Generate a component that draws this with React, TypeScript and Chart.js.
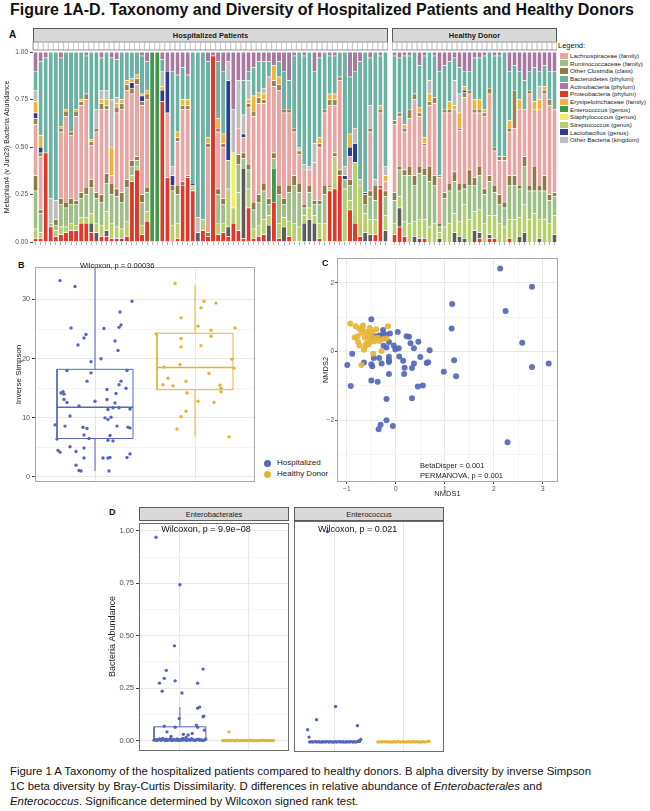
import React, { useEffect, useRef } from "react";
import { Chart, registerables } from "chart.js";

Chart.register(...registerables);

const FONT = "'Liberation Sans', Arial, Helvetica, sans-serif";
Chart.defaults.font.family = FONT;

// ---------- Panel A: relative abundance per sample (percent) ----------
const taxaNames = [
  "Lachnospiraceae (family)",
  "Ruminococcaceae (family)",
  "Other Clostridia (class)",
  "Bacteroidetes (phylum)",
  "Actinobacteria (phylum)",
  "Proteobacteria (phylum)",
  "Erysipelotrichaceae (family)",
  "Enterococcus (genus)",
  "Staphylococcus (genus)",
  "Streptococcus (genus)",
  "Lactobacillus (genus)",
  "Other Bacteria (kingdom)",
];
const taxaColors = [
  "#E9A5A2", "#9EBF88", "#8C7B45", "#6BB2A2", "#A8789F", "#E2382B",
  "#EFB43E", "#3E9A48", "#EEEE6A", "#B7CF6C", "#2D3C8F", "#BDBDBD",
];

// stacking order, bottom to top
const stackNames = [
  "Proteobacteria", "Other Bacteria (unassigned)", "Enterococcus", "Streptococcus",
  "Staphylococcus", "Ruminococcaceae", "Other Clostridia", "Lachnospiraceae",
  "Other Clostridia (minor)", "Lactobacillus", "Erysipelotrichaceae",
  "Other Bacteria", "Bacteroidetes", "Actinobacteria",
];
const stackColors = [
  "#E2382B", "#5C5C5C", "#3E9A48", "#B7CF6C", "#EEEE6A", "#9EBF88", "#8C7B45",
  "#E9A5A2", "#9A8550", "#2D3C8F", "#EFB43E", "#BDBDBD", "#6BB2A2", "#A8789F",
];

const hospProt = [2,2,47,8,3,4,5,6,6,10, 10,5,0,3,3,2,2,0,3,32, 38,4,11,0,0,74,34,1,2,30, 34,27,0,6,3,98,4,5,3,10, 6,2,18,2,3,4,0,21,2,0, 3,0,0,0,0,0,2,0,27,28, 35,0,17,10,3,0,0,4,28,0];
const hospDark = [0,0,0,0,0,0,0,0,0,0, 0,5,5,0,3,0,0,2,0,0, 0,0,0,0,0,0,0,0,0,0, 0,0,5,0,0,0,0,0,5,0, 0,37,0,0,0,0,9,0,0,8, 0,0,0,10,12,10,0,0,0,0, 0,0,0,0,0,5,4,0,0,6];
const hospEntc = [0,0,0,0,0,0,0,0,0,0, 0,0,0,0,0,0,0,0,0,0, 0,0,0,100,100,0,0,0,0,0, 0,0,0,0,0,0,0,0,0,0, 0,0,0,0,0,0,0,18,0,0, 0,0,0,0,0,0,0,0,0,0, 0,0,0,0,0,0,0,0,0,0];
const hospStrep = [5,3,0,0,3,4,3,4,3,3, 3,5,5,6,10,8,6,5,8,3, 2,5,5,0,0,0,0,8,8,0, 0,2,0,6,0,0,6,5,20,8, 20,0,10,5,6,8,5,0,8,5, 8,10,8,4,6,4,8,10,2,17, 0,28,5,32,27,10,8,8,0,8];
const hospStaph = [0,0,0,0,0,0,0,0,0,0, 0,0,0,0,0,0,0,0,0,0, 0,0,0,0,0,0,0,0,0,0, 0,0,0,0,0,0,0,0,0,29, 0,0,0,0,0,0,0,0,0,0, 0,0,0,0,0,0,0,0,0,0, 0,0,0,0,0,0,0,0,0,0];
const hospRumi = [20,10,0,2,3,12,10,10,11,10, 12,14,13,12,15,15,16,14,18,5, 3,12,10,0,0,0,0,18,15,0, 0,1,0,0,0,0,15,10,15,0, 15,5,10,10,12,15,6,5,15,7, 15,20,18,4,8,6,10,15,0,0, 0,5,8,0,0,5,12,10,0,10];
const hospClos = [8,2,0,0,3,3,3,3,2,3, 4,4,3,4,5,6,4,5,4,3, 2,4,3,0,0,0,0,3,5,2, 1,0,0,0,2,0,3,3,0,0, 5,3,3,4,4,4,3,3,5,3, 4,5,5,2,4,2,2,5,1,2, 3,0,3,0,0,5,3,8,2,3];
const hospLach = [27,28,0,0,0,35,45,33,44,46, 46,18,32,45,34,4,40,44,47,35, 38,47,46,0,0,0,34,0,23,38, 35,0,0,0,45,0,30,27,0,0, 14,8,30,45,48,42,64,35,50,45, 38,23,15,18,8,20,28,38,42,25, 47,0,12,0,0,0,31,0,38,5];
const hospClosHi = [3,2,0,0,0,2,3,2,3,2, 3,2,2,3,2,0,3,3,3,3, 3,2,3,0,0,0,0,0,2,2, 2,0,0,0,2,0,2,2,0,0, 0,0,2,3,3,2,0,3,3,2, 2,2,2,1,0,0,2,2,3,3, 2,0,0,0,0,0,2,0,2,0];
const hospLacto = [3,3,0,0,0,0,0,0,0,0, 0,0,0,0,0,0,0,0,0,3, 0,3,0,0,0,6,22,5,0,0, 0,1,0,0,0,0,0,0,42,0, 0,2,0,0,0,0,0,0,0,0, 0,0,0,0,0,0,0,0,0,0, 0,2,5,10,0,1,0,0,0,0];
const hospEry = [6,6,0,0,0,1,1,0,1,1, 0,1,0,2,3,15,2,2,2,2, 2,1,2,0,0,2,0,0,3,3, 3,0,0,0,3,0,5,5,0,0, 0,0,2,8,3,3,0,8,4,0, 0,0,1,0,0,0,3,0,3,3, 0,0,7,0,0,0,0,0,2,3];
const hospGray = [6,0,0,13,10,0,0,0,0,0, 0,0,10,5,5,25,3,0,0,0, 0,0,0,0,0,8,0,5,0,0, 0,0,8,0,0,0,0,0,10,23, 25,10,10,0,0,3,0,0,0,0, 0,0,1,2,2,10,0,0,0,0, 0,5,0,8,3,0,12,3,0,5];
const hospBact = [10,39,50,77,78,36,30,42,30,25, 20,46,30,17,20,22,20,25,15,14, 12,20,15,0,0,6,0,50,30,17, 13,69,87,88,40,0,30,33,0,0, 0,18,5,15,16,14,8,0,8,20, 15,38,50,57,60,38,42,30,20,20, 13,60,30,30,62,74,25,67,26,60];
const hospActino = [10,5,3,0,0,3,0,0,0,0, 2,0,0,3,0,3,4,0,0,0, 0,2,5,0,0,4,10,10,12,8, 12,0,0,0,5,2,5,10,5,30, 15,15,10,8,5,5,5,7,5,10, 15,2,0,2,0,10,3,0,2,2, 0,0,13,10,5,0,3,0,2,0];

const healthyProt = [4,8,3,0,0,0,2,0,0,0, 0,0,0,0,0,0,0,2,0,2, 2,0,0,2,0,0,0,0,0,0, 0,0,0];
const healthyDark = [0,10,0,0,3,2,0,0,0,2, 0,0,5,3,2,0,6,3,0,2, 0,0,0,0,0,3,5,0,0,2, 0,0,4];
const healthyEntc = [0,0,0,0,0,0,0,0,0,0, 0,0,0,0,0,0,0,0,0,0, 0,0,0,0,0,0,0,0,0,0, 0,0,0];
const healthyStrep = [6,6,8,10,8,10,10,8,10,3, 8,10,10,8,18,12,10,12,10,10, 12,10,8,10,12,10,15,12,15,10, 12,10,10];
const healthyStaph = [0,0,0,0,0,0,0,0,0,0, 0,0,0,0,0,0,0,0,0,0, 0,0,0,0,0,0,0,0,0,0, 0,0,0];
const healthyRumi = [12,14,24,25,19,24,23,24,20,3, 15,17,17,16,8,18,14,18,15,18, 12,10,10,18,18,15,20,15,12,15, 15,12,10];
const healthyClos = [4,2,3,5,5,4,4,8,5,2, 3,4,5,4,3,8,4,5,3,3, 4,5,3,5,5,2,5,3,13,3, 8,3,2];
const healthyLach = [36,26,20,25,40,26,12,32,38,24, 42,37,33,28,45,40,34,28,38,43, 18,18,22,23,25,40,25,48,30,40, 43,47,44];
const healthyClosHi = [2,2,2,5,3,2,1,2,3,1, 2,2,0,1,3,2,2,2,2,3, 2,2,2,2,20,0,0,2,0,0, 2,3,0];
const healthyLacto = [0,0,0,0,0,0,0,0,0,0, 0,0,0,0,1,0,0,0,0,0, 0,0,0,0,0,0,0,0,0,0, 0,0,0];
const healthyEry = [0,0,2,0,0,3,3,4,0,0, 0,4,2,8,2,0,5,5,2,0, 0,0,0,4,0,5,0,0,4,5, 2,0,0];
const healthyGray = [0,0,0,0,0,0,0,7,0,0, 0,0,13,10,0,0,0,0,0,0, 0,0,0,0,0,0,0,0,0,7, 0,0,0];
const healthyBact = [34,29,36,28,22,22,43,15,22,55, 23,21,12,14,8,10,22,22,28,19, 48,53,55,26,13,15,15,10,18,8, 11,15,20];
const healthyActino = [2,3,2,2,0,7,2,0,2,10, 7,5,3,8,10,10,3,3,2,0, 2,2,0,10,7,10,15,10,8,10, 7,10,10];

const hospSamples = hospProt.map((_, i) => `HP${i + 1}`);
const healthySamples = healthyProt.map((_, i) => `HD${i + 1}`);

const hospTaxa = [hospProt, hospDark, hospEntc, hospStrep, hospStaph, hospRumi, hospClos, hospLach, hospClosHi, hospLacto, hospEry, hospGray, hospBact, hospActino];
const healthyTaxa = [healthyProt, healthyDark, healthyEntc, healthyStrep, healthyStaph, healthyRumi, healthyClos, healthyLach, healthyClosHi, healthyLacto, healthyEry, healthyGray, healthyBact, healthyActino];

// ---------- Panel B: inverse Simpson ----------
const groupCenters = [1, 2];
const hospInvSimpX = [0.65,0.80,0.76,0.91,0.89,0.83,1.09,1.37,1.25,1.26,1.24,1.20,1.23,0.96,1.06,0.96,0.72,1.32,0.92,1.26,1.24,1.31,1.12,0.66,0.68,0.69,1.21,0.69,1.12,0.72,1.00,1.20,0.84,1.13,1.18,1.24,1.35,0.75,1.10,1.13,1.16,0.60,0.70,1.22,0.88,0.92,1.33,1.35,0.89,1.15,0.94,1.13,1.18,0.62,0.75,0.89,0.63,0.65,0.81,1.35,1.32,0.89,1.08,1.13,1.15,0.81,0.84,0.86,1.14];
const hospInvSimpY = [33.2,32.2,25.2,24.1,23.5,22.3,25.1,29.7,27.9,25.7,25.3,23.0,21.4,19.5,20.0,17.6,18.0,18.0,16.2,16.2,15.6,15.0,14.8,14.2,14.4,14.0,14.1,13.1,13.1,12.6,12.8,12.5,12.0,11.4,11.7,11.7,11.5,10.3,10.0,9.7,10.1,8.8,8.6,8.6,8.4,8.2,8.4,8.3,7.1,7.0,6.5,6.2,6.1,6.4,5.1,4.9,4.5,4.2,4.3,3.9,3.3,3.2,3.2,3.2,3.3,2.0,1.1,1.0,1.0];
const healthyInvSimpX = [1.80,1.86,2.09,2.06,2.21,2.03,2.16,2.40,2.16,1.61,1.86,1.86,2.06,2.37,1.85,1.69,2.39,1.73,1.68,1.78,1.91,2.14,2.25,2.26,2.26,1.92,2.19,2.03,1.91,1.86,1.82,2.34];
const healthyInvSimpY = [32.7,26.9,29.7,28.6,29.4,25.5,24.8,25.2,23.8,24.2,23.4,22.0,22.2,19.9,19.0,18.6,18.4,16.7,15.6,15.4,16.2,17.5,15.5,15.0,14.4,14.2,12.6,12.8,11.1,10.2,8.1,6.8];
const invSimpLow = [1.0, 6.8];
const invSimpQ1 = [6.5, 14.75];
const invSimpMedian = [11.8, 18.5];
const invSimpQ3 = [18.2, 24.3];
const invSimpHigh = [35.8, 32.5];

// ---------- Panel C: NMDS ordination ----------
const nmdsHospX = [2.13,2.78,2.24,1.15,1.14,2.58,2.78,3.12,2.28,1.19,1.23,0.98,-0.50,0.04,0.22,0.27,0.46,0.30,0.37,0.69,0.50,0.66,0.63,0.37,0.33,0.18,0.15,0.07,0.06,-0.01,-0.04,-0.14,-0.14,-0.14,-0.14,-0.19,-0.25,-0.26,-0.26,-0.21,-0.12,-0.34,-0.43,-0.46,-0.29,-0.34,-0.45,-0.50,-0.48,-0.65,-0.99,-0.89,-0.92,-0.50,-0.37,-0.14,0.17,-0.19,0.33,0.45,0.55,-0.19,-0.31,-0.35,-0.06];
const nmdsHospY = [2.42,1.89,1.18,1.39,0.67,0.26,-0.45,-0.35,-2.64,-0.25,-0.72,-0.59,0.94,0.57,0.45,0.43,0.29,0.24,0.10,0.04,-0.16,-0.31,-0.33,-0.35,-0.48,-0.47,-0.27,-0.14,0.10,0.06,0.18,0.28,-0.15,-0.25,-0.30,0.12,0.17,0.63,0.50,0.49,0.53,0.47,0.45,0.43,-0.35,-0.19,-0.19,-0.37,-0.43,-0.32,-0.39,-0.06,-1.00,-0.84,-0.88,-0.65,-0.65,-1.38,-1.36,-1.02,-0.99,-2.0,-2.13,-2.26,-2.17];
const nmdsHealthyX = [-0.93,-0.82,-0.75,-0.68,-0.70,-0.78,-0.60,-0.55,-0.63,-0.74,-0.62,-0.65,-0.56,-0.53,-0.46,-0.40,-0.43,-0.33,-0.16,-0.19,-0.29,-0.46,-0.70,-0.60,-0.48,-0.37,-0.84,-0.77,-0.67,-0.53,-0.52,-0.26];
const nmdsHealthyY = [0.82,0.74,0.67,0.67,0.55,0.45,0.57,0.50,0.41,0.18,0.16,0.05,0.21,0.36,0.41,0.65,0.30,0.31,0.74,0.38,0.02,-0.06,-0.39,0.24,0.57,0.40,0.41,0.28,0.76,0.69,0.28,0.37];

// ---------- Panel D: Enterobacterales / Enterococcus ----------
const entbHospX = [0.65,1.00,0.92,0.80,1.34,0.77,0.70,1.26,0.93,0.74,1.03,1.26,1.29,1.35,1.34,0.99,0.77,0.93,1.24,1.26,1.36,0.81,1.05,1.12,1.18,0.87,1.09,0.62,0.64,0.66,0.68,0.70,0.72,0.73,0.75,0.77,0.79,0.80,0.82,0.84,0.86,0.88,0.90,0.91,0.94,0.96,0.98,1.00,1.02,1.04,1.06,1.08,1.10,1.13,1.15,1.17,1.20,1.22,1.24,1.27,1.29,1.31,1.33,1.36,1.38];
const entbHospY = [0.97,0.743,0.452,0.335,0.341,0.297,0.274,0.274,0.285,0.236,0.227,0.155,0.160,0.117,0.114,0.105,0.069,0.064,0.074,0.064,0.050,0.042,0.030,0.027,0.034,0.020,0.015,0.002,0.006,0.001,0.004,0.008,0.002,0.005,0.010,0.003,0.001,0.007,0.002,0.004,0.009,0.001,0.003,0.006,0.002,0.008,0.001,0.004,0.002,0.011,0.003,0.005,0.001,0.006,0.002,0.009,0.003,0.001,0.004,0.007,0.002,0.005,0.001,0.003,0.008];
const entbHealthyX = [1.72,1.63,1.65,1.67,1.70,1.74,1.76,1.79,1.82,1.84,1.87,1.90,1.92,1.95,1.98,2.01,2.03,2.06,2.09,2.12,2.15,2.18,2.20,2.23,2.26,2.29,2.31,2.34,2.37];
const entbHealthyY = [0.042,0,0.001,0,0.002,0,0.001,0,0,0.002,0,0.001,0,0,0.001,0,0.002,0,0.001,0,0,0.001,0,0.002,0,0.001,0,0,0.001];
const entcHospX = [0.89,0.60,0.73,1.01,0.62,1.33,0.63,0.66,0.68,0.71,0.73,0.76,0.78,0.81,0.83,0.86,0.88,0.91,0.93,0.96,0.98,1.01,1.03,1.06,1.08,1.11,1.13,1.16,1.18,1.21,1.23,1.26,1.28,1.31,1.34,1.36,1.38];
const entcHospY = [0.99,0.058,0.105,0.167,0.023,0.077,0,0.001,0,0.002,0,0.001,0,0,0.001,0,0.002,0,0.001,0,0,0.001,0,0.002,0,0.001,0,0,0.001,0,0.002,0,0.001,0,0.004,0.006,0.012];
const entcHealthyX = [1.63,1.66,1.69,1.72,1.75,1.78,1.81,1.84,1.87,1.90,1.93,1.96,1.99,2.02,2.05,2.08,2.11,2.14,2.17,2.20,2.23,2.26,2.29,2.32,2.35,2.38];
const entcHealthyY = [0,0.001,0,0.002,0,0.001,0,0,0.001,0,0.002,0,0.001,0,0,0.001,0,0.002,0,0.001,0,0,0.001,0,0.002,0.004];
const entbLow = [0, 0];
const entbQ1 = [0, 0];
const entbMedian = [0.003, 0];
const entbQ3 = [0.066, 0.001];
const entbHigh = [0.16, 0.002];
const entcLow = [0, 0];
const entcQ1 = [0, 0];
const entcMedian = [0, 0];
const entcQ3 = [0.001, 0];
const entcHigh = [0.002, 0];

// ---------- styling ----------
const BLUE = "#5467BA";
const GOLD = "#E6B435";
const TICK_COLOR = "#4D4D4D";
const GRID_MAJOR = "#E8E8E8";
const GRID_MINOR = "#F4F4F4";

const noInteraction = {
  responsive: false,
  animation: false as const,
  events: [] as any[],
  plugins: { legend: { display: false }, tooltip: { enabled: false } },
};

function framePlugin(color: string) {
  return {
    id: "panelFrame",
    afterDraw(chart: any) {
      const { ctx, chartArea } = chart;
      ctx.save();
      ctx.strokeStyle = color;
      ctx.lineWidth = 1;
      ctx.strokeRect(
        Math.round(chartArea.left) + 0.5,
        Math.round(chartArea.top) + 0.5,
        Math.round(chartArea.right - chartArea.left) - 1,
        Math.round(chartArea.bottom - chartArea.top) - 1
      );
      ctx.restore();
    },
  };
}

// small white per-sample strip above the stacked bars
const sampleStripPlugin = {
  id: "sampleStrip",
  afterDraw(chart: any) {
    const { ctx, chartArea } = chart;
    const xs = chart.scales.x;
    const n = chart.data.labels.length;
    const w = (chartArea.right - chartArea.left) / n;
    ctx.save();
    ctx.fillStyle = "#ffffff";
    ctx.fillRect(chartArea.left, chartArea.top - 10, chartArea.right - chartArea.left, 8);
    ctx.strokeStyle = "#C4C4C4";
    ctx.lineWidth = 0.7;
    for (let i = 0; i < n; i++) {
      const cx = xs.getPixelForValue(i);
      ctx.strokeRect(cx - w / 2, chartArea.top - 10, w, 8);
    }
    ctx.strokeStyle = "#8A8A8A";
    ctx.strokeRect(chartArea.left, chartArea.top - 10, chartArea.right - chartArea.left, 8);
    ctx.restore();
  },
};

function taxaConfig(labels: string[], taxa: number[][], withAxis: boolean) {
  const totals = labels.map((_, i) => taxa.reduce((s, col) => s + (col[i] || 0), 0));
  return {
    type: "bar",
    data: {
      labels,
      datasets: taxa.map((col, k) => ({
        label: stackNames[k],
        data: col.map((v, i) => v / totals[i]),
        backgroundColor: stackColors[k],
        borderColor: "#ffffff",
        borderWidth: { top: 0.5, right: 0, bottom: 0, left: 0 },
        borderSkipped: false,
        barPercentage: 0.8,
        categoryPercentage: 1,
        stack: "taxa",
      })),
    },
    options: {
      ...noInteraction,
      layout: { autoPadding: false, padding: { top: 12, left: 0, right: 0, bottom: 0 } },
      scales: {
        x: {
          stacked: true,
          offset: true,
          ticks: { display: false, autoSkip: false },
          grid: { display: true, drawOnChartArea: false, drawTicks: true, tickLength: 3, offset: false, color: "#777", lineWidth: 0.6 },
          border: { display: false },
          afterFit: (s: any) => { s.height = 8; },
        },
        y: {
          display: withAxis,
          stacked: true,
          min: 0,
          max: 1,
          ticks: { stepSize: 0.25, callback: (v: any) => Number(v).toFixed(2), font: { size: 6.5 }, color: TICK_COLOR, padding: 2 },
          grid: { drawOnChartArea: false, tickLength: 3, color: "#444" },
          border: { display: false },
          title: { display: true, text: "Metaphlan4 (v Jun23) Bacteria Abundance", font: { size: 7 }, color: "#222", padding: { top: 3, bottom: 0 } },
          afterFit: (s: any) => { s.width = withAxis ? 33 : 0; },
        },
      },
    },
    plugins: [sampleStripPlugin],
  };
}

function boxDatasets(lo: number[], q1: number[], med: number[], q3: number[], hi: number[], colors: string[], half: number) {
  const sets: any[] = [];
  groupCenters.forEach((c, i) => {
    const common = { showLine: true, pointRadius: 0, borderColor: colors[i], fill: false, tension: 0, order: 5 };
    sets.push({ ...common, borderWidth: 1, data: [
      { x: c - half, y: q1[i] }, { x: c + half, y: q1[i] }, { x: c + half, y: q3[i] },
      { x: c - half, y: q3[i] }, { x: c - half, y: q1[i] },
    ] });
    sets.push({ ...common, borderWidth: 1.6, data: [{ x: c - half, y: med[i] }, { x: c + half, y: med[i] }] });
    sets.push({ ...common, borderWidth: 1, spanGaps: false, data: [
      { x: c, y: lo[i] }, { x: c, y: q1[i] }, { x: c, y: null }, { x: c, y: q3[i] }, { x: c, y: hi[i] },
    ] });
  });
  return sets;
}

function points(xs: number[], ys: number[], color: string, r: number, order: number) {
  return {
    data: xs.map((x, i) => ({ x, y: ys[i] })),
    pointRadius: r,
    pointBackgroundColor: color,
    pointBorderWidth: 0,
    showLine: false,
    order,
  };
}

function gridColor(isMajor: (v: number) => boolean) {
  return (ctx: any) => (ctx.tick && isMajor(ctx.tick.value) ? GRID_MAJOR : GRID_MINOR);
}
function tickMarkColor(isMajor: (v: number) => boolean) {
  return (ctx: any) => (ctx.tick && isMajor(ctx.tick.value) ? "#444" : "rgba(0,0,0,0)");
}
const near = (a: number, b: number) => Math.abs(a - b) < 1e-6;

function invSimpsonConfig() {
  const major = (v: number) => near(v % 10, 0);
  return {
    type: "scatter",
    data: {
      datasets: [
        ...boxDatasets(invSimpLow, invSimpQ1, invSimpMedian, invSimpQ3, invSimpHigh, [BLUE, GOLD], 0.38),
        points(hospInvSimpX, hospInvSimpY, BLUE, 1.7, 1),
        points(healthyInvSimpX, healthyInvSimpY, GOLD, 1.7, 0),
      ],
    },
    options: {
      ...noInteraction,
      layout: { autoPadding: false, padding: { top: 12, right: 5, left: 0, bottom: 0 } },
      scales: {
        x: {
          type: "linear", min: 0.4, max: 2.6,
          afterBuildTicks: (s: any) => { s.ticks = [1, 2].map((value) => ({ value })); },
          ticks: { display: false },
          grid: { color: GRID_MAJOR, drawTicks: false },
          border: { display: false },
          afterFit: (s: any) => { s.height = 13; },
        },
        y: {
          type: "linear", min: -0.85, max: 35.5,
          afterBuildTicks: (s: any) => { s.ticks = [0, 5, 10, 15, 20, 25, 30, 35].map((value) => ({ value })); },
          ticks: { callback: (v: any) => (major(v) ? String(v) : ""), font: { size: 7 }, color: TICK_COLOR, padding: 2 },
          grid: { color: gridColor(major), tickColor: tickMarkColor(major), tickLength: 3 },
          border: { display: false },
          title: { display: true, text: "Inverse Simpson", font: { size: 8 }, color: "#222", padding: { top: 13.5, bottom: 0 } },
          afterFit: (s: any) => { s.width = 35; },
        },
      },
    },
    plugins: [framePlugin("#A8A8A8")],
  };
}

function nmdsConfig() {
  const xMajor = (v: number) => near(v, Math.round(v));
  const yMajor = (v: number) => near(Math.abs(v) % 2, 0);
  return {
    type: "scatter",
    data: {
      datasets: [
        points(nmdsHospX, nmdsHospY, "rgba(84,103,186,0.92)", 3, 1),
        points(nmdsHealthyX, nmdsHealthyY, "rgba(230,180,53,0.92)", 3, 0),
      ],
    },
    options: {
      ...noInteraction,
      layout: { autoPadding: false, padding: { top: 4, right: 2, left: 0, bottom: 0 } },
      scales: {
        x: {
          type: "linear", min: -1.2, max: 3.31,
          afterBuildTicks: (s: any) => { s.ticks = [-1, -0.5, 0, 0.5, 1, 1.5, 2, 2.5, 3].map((value) => ({ value })); },
          ticks: { callback: (v: any) => (xMajor(v) ? String(v).replace("-", "\u2212") : ""), font: { size: 6.5 }, color: TICK_COLOR, padding: 1, maxRotation: 0 },
          grid: { color: gridColor(xMajor), tickColor: tickMarkColor(xMajor), tickLength: 2 },
          border: { display: false },
          title: { display: true, text: "NMDS1", font: { size: 7.5 }, color: "#222", padding: { top: 0.5, bottom: 0 } },
          afterFit: (s: any) => { s.height = 16; },
        },
        y: {
          type: "linear", min: -3.8, max: 2.73,
          afterBuildTicks: (s: any) => { s.ticks = [-3, -2, -1, 0, 1, 2].map((value) => ({ value })); },
          ticks: { callback: (v: any) => (yMajor(v) ? String(v).replace("-", "\u2212") : ""), font: { size: 6.5 }, color: TICK_COLOR, padding: 1 },
          grid: { color: gridColor(yMajor), tickColor: tickMarkColor(yMajor), tickLength: 2 },
          border: { display: false },
          title: { display: true, text: "NMDS2", font: { size: 7.5 }, color: "#222", padding: { top: 1.5, bottom: 0 } },
          afterFit: (s: any) => { s.width = 17; },
        },
      },
    },
    plugins: [framePlugin("#A8A8A8")],
  };
}

function abundanceConfig(
  hx: number[], hy: number[], dx: number[], dy: number[],
  lo: number[], q1: number[], med: number[], q3: number[], hi: number[],
  withAxis: boolean
) {
  const major = (v: number) => near((v * 4) % 1, 0) || near((v * 4) % 1, 1);
  return {
    type: "scatter",
    data: {
      datasets: [
        ...boxDatasets(lo, q1, med, q3, hi, [BLUE, GOLD], 0.38),
        points(hx, hy, BLUE, 1.7, 1),
        points(dx, dy, GOLD, 1.7, 0),
      ],
    },
    options: {
      ...noInteraction,
      layout: { autoPadding: false, padding: { top: 5, right: 0, left: 0, bottom: 0 } },
      scales: {
        x: {
          type: "linear", min: 0.4, max: 2.6,
          afterBuildTicks: (s: any) => { s.ticks = [1, 2].map((value) => ({ value })); },
          ticks: { display: false },
          grid: { color: GRID_MAJOR, drawTicks: false },
          border: { display: false },
          afterFit: (s: any) => { s.height = 5; },
        },
        y: {
          display: withAxis,
          type: "linear", min: -0.047, max: 1.04,
          afterBuildTicks: (s: any) => { s.ticks = [0, 0.125, 0.25, 0.375, 0.5, 0.625, 0.75, 0.875, 1].map((value) => ({ value })); },
          ticks: { callback: (v: any) => (major(v) ? Number(v).toFixed(2) : ""), font: { size: 7.5 }, color: TICK_COLOR, padding: 2 },
          grid: { color: gridColor(major), tickColor: tickMarkColor(major), tickLength: 3 },
          border: { display: false },
          title: { display: true, text: "Bacteria Abundance", font: { size: 9 }, color: "#222", padding: { top: 7.6, bottom: 0 } },
          afterFit: (s: any) => { s.width = withAxis ? 39 : 0; },
        },
      },
    },
    plugins: [framePlugin("#6E6E6E")],
  };
}

function ChartCanvas(props: { left: number; top: number; width: number; height: number; build: () => any }) {
  const { left, top, width, height, build } = props;
  const ref = useRef<HTMLCanvasElement | null>(null);
  useEffect(() => {
    if (!ref.current) return;
    const chart = new Chart(ref.current, build());
    return () => chart.destroy();
  }, []);
  return (
    <canvas
      ref={ref}
      width={width}
      height={height}
      style={{ position: "absolute", left, top, width, height }}
    />
  );
}

function Text(props: { x: number; y: number; size: number; bold?: boolean; center?: boolean; color?: string; children: React.ReactNode }) {
  const { x, y, size, bold, center, color, children } = props;
  return (
    <div
      style={{
        position: "absolute",
        left: x,
        top: y,
        transform: center ? "translate(-50%, -50%)" : "translateY(-50%)",
        fontSize: size,
        fontWeight: bold ? 700 : 400,
        lineHeight: 1,
        whiteSpace: "nowrap",
        color: color || "#111",
      }}
    >
      {children}
    </div>
  );
}

function Strip(props: { x: number; y: number; w: number; h: number; label: string; bold?: boolean; size: number }) {
  const { x, y, w, h, label, bold, size } = props;
  return (
    <div
      style={{
        position: "absolute", left: x, top: y, width: w, height: h, boxSizing: "border-box",
        background: "#D9D9D9", border: "1px solid #5A5A5A", display: "flex",
        alignItems: "center", justifyContent: "center", fontSize: size,
        fontWeight: bold ? 700 : 400, color: "#1A1A1A", whiteSpace: "nowrap",
      }}
    >
      {label}
    </div>
  );
}

export default function App() {
  return (
    <div
      style={{
        position: "absolute", left: 0, top: 0, width: 650, height: 811,
        background: "#ffffff", fontFamily: FONT, overflow: "hidden",
      }}
    >
      <Text x={10} y={10} size={16} bold>
        Figure 1A-D. Taxonomy and Diversity of Hospitalized Patients and Healthy Donors
      </Text>

      {/* Panel A */}
      <Text x={9} y={35} size={10} bold>A</Text>
      <Strip x={33} y={28} w={355} h={15} label="Hospitalized Patients" bold size={7.5} />
      <Strip x={392} y={28} w={165} h={15} label="Healthy Donor" bold size={7.5} />
      <ChartCanvas left={0} top={40} width={388} height={210} build={() => taxaConfig(hospSamples, hospTaxa, true)} />
      <ChartCanvas left={392} top={40} width={165} height={210} build={() => taxaConfig(healthySamples, healthyTaxa, false)} />
      <Text x={558} y={46} size={7.5}>Legend:</Text>
      {taxaNames.map((name, i) => (
        <div key={name}>
          <div
            style={{
              position: "absolute", left: 560, top: 55.7 + i * 7.66 - 3, width: 8, height: 6,
              background: taxaColors[i],
            }}
          />
          <Text x={570} y={55.9 + i * 7.66} size={6.2} color="#222">{name}</Text>
        </div>
      ))}

      {/* Panel B */}
      <Text x={18} y={265} size={9} bold>B</Text>
      <ChartCanvas left={0} top={255} width={260} height={240} build={invSimpsonConfig} />
      <Text x={80} y={266} size={7.5} color="#222">Wilcoxon, p = 0.00036</Text>

      {/* shared group legend */}
      <div style={{ position: "absolute", left: 263.5, top: 459.5, width: 7, height: 7, borderRadius: "50%", background: BLUE }} />
      <div style={{ position: "absolute", left: 263.5, top: 470.5, width: 7, height: 7, borderRadius: "50%", background: GOLD }} />
      <Text x={277} y={463} size={8} color="#222">Hospitalized</Text>
      <Text x={277} y={474} size={8} color="#222">Healthy Donor</Text>

      {/* Panel C */}
      <Text x={322} y={263} size={9} bold>C</Text>
      <ChartCanvas left={320} top={253} width={240} height={245} build={nmdsConfig} />
      <Text x={420} y={466} size={7.5} color="#222">BetaDisper = 0.001</Text>
      <Text x={420} y={475.7} size={7.5} color="#222">PERMANOVA, p = 0.001</Text>

      {/* Panel D */}
      <Text x={109} y={512} size={9} bold>D</Text>
      <Strip x={139} y={507} w={150} h={14} label="Enterobacterales" size={7.5} />
      <Strip x={294} y={507} w={150} h={14} label="Enterococcus" size={7.5} />
      <ChartCanvas
        left={100} top={516} width={189} height={241}
        build={() => abundanceConfig(entbHospX, entbHospY, entbHealthyX, entbHealthyY, entbLow, entbQ1, entbMedian, entbQ3, entbHigh, true)}
      />
      <ChartCanvas
        left={294} top={516} width={150} height={241}
        build={() => abundanceConfig(entcHospX, entcHospY, entcHealthyX, entcHealthyY, entcLow, entcQ1, entcMedian, entcQ3, entcHigh, false)}
      />
      <Text x={206} y={529} size={9} center color="#111">Wilcoxon, p = 9.9e{"\u2212"}08</Text>
      <Text x={318} y={529} size={9} color="#111">Wilcoxon, p = 0.021</Text>

      {/* Caption */}
      <div
        style={{
          position: "absolute", left: 10, top: 764, width: 640, fontSize: 11.4,
          lineHeight: "15px", color: "#111", whiteSpace: "nowrap",
        }}
      >
        <div>Figure 1 A Taxonomy of the hospitalized patients compared to healthy donors. B alpha diversity by inverse Simpson</div>
        <div>1C beta diversity by Bray-Curtis Dissimilarity. D differences in relative abundance of <i>Enterobacterales</i> and</div>
        <div><i>Enterococcus</i>. Significance determined by Wilcoxon signed rank test.</div>
      </div>
    </div>
  );
}
